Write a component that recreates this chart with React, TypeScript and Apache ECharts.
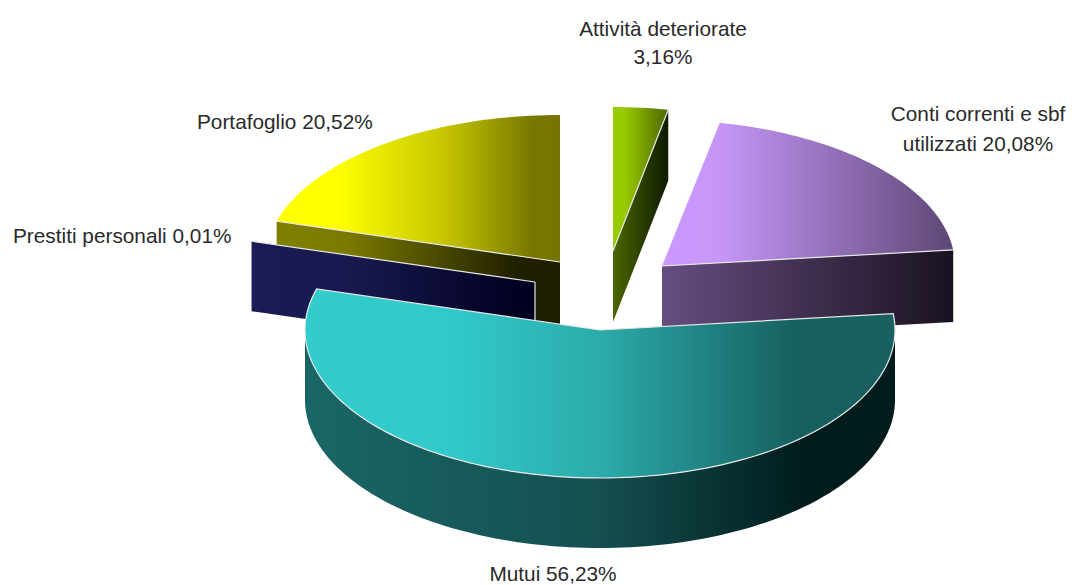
import React, { useEffect, useRef } from "react";
import * as echarts from "echarts";

const categories = ["Attività deteriorate", "Conti correnti e sbf utilizzati", "Mutui", "Prestiti personali", "Portafoglio"];
const values = [3.16, 20.08, 56.23, 0.01, 20.52];

// Back-to-front painting order of the slices
const drawOrder = [0, 1, 4, 3, 2];

// Exploded position and ellipse of every slice
const geometry = [
  { x: 613, y: 251, rx: 280, ry: 144, depth: 71 },
  { x: 662, y: 266, rx: 293, ry: 146, depth: 72 },
  { x: 600, y: 330, rx: 295, ry: 148, depth: 70 },
  { x: 535, y: 282, rx: 295, ry: 147, depth: 70 },
  { x: 560, y: 262, rx: 295, ry: 147, depth: 70 },
];

const topStops = [
  [[0, "#99cc00"], [0.2, "#99cc00"], [1, "#4d6600"]],
  [[0, "#cc99ff"], [0.2, "#c596f8"], [1, "#5e4775"]],
  [[0, "#33cccc"], [0.25, "#31c9c9"], [0.5, "#2cabab"], [0.83, "#176060"], [1, "#1a6060"]],
  [[0, "#1b1b55"], [1, "#000020"]],
  [[0, "#ffff00"], [0.22, "#ffff00"], [0.6, "#c4c400"], [0.9, "#787800"], [1, "#757500"]],
];
const wallStops = [
  [[0, "#4d6600"], [1, "#0d1a00"]],
  [[0, "#664d80"], [1, "#1a1220"]],
  [[0, "#1a6666"], [0.5, "#154f50"], [0.85, "#001c1c"], [1, "#001c1c"]],
  [[0, "#1b1b55"], [0.35, "#191950"], [0.95, "#000020"], [1, "#000020"]],
  [[0, "#808000"], [0.25, "#7a7a00"], [0.85, "#201f00"], [1, "#201f00"]],
];

const EDGE = "#e8e8e8";

const pctText = (v: number) => v.toFixed(2).replace(".", ",") + "%";

const gradient = (stops: any[]) =>
  new echarts.graphic.LinearGradient(0, 0, 1, 0, stops.map(([offset, color]) => ({ offset, color })));

const total = values.reduce((a, b) => a + b, 0);
const starts: number[] = [];
values.reduce((acc, v, i) => {
  starts[i] = acc;
  return acc + v;
}, 0);

const renderItem = (_params: any, api: any) => {
  const i = api.value(0);
  const v = api.value(1);
  const g = geometry[i];
  const s = (starts[i] / total) * 360;
  const e = s + (v / total) * 360;
  const rim = (deg: number, drop = 0) => {
    const r = (deg * Math.PI) / 180;
    return [g.x + g.rx * Math.sin(r), g.y - g.ry * Math.cos(r) + drop];
  };
  const arc = (a: number, b: number, drop = 0) => {
    const n = Math.max(2, Math.ceil(Math.abs(b - a) / 1.5));
    const pts: number[][] = [];
    for (let k = 0; k <= n; k++) pts.push(rim(a + ((b - a) * k) / n, drop));
    return pts;
  };
  const apex = [g.x, g.y];
  const apexLow = [g.x, g.y + g.depth];
  const children: any[] = [];
  const wall = (points: number[][]) =>
    children.push({ type: "polygon", shape: { points }, style: { fill: gradient(wallStops[i]) } });
  const edge = (points: number[][]) =>
    children.push({ type: "polyline", shape: { points }, style: { stroke: EDGE, fill: null, lineWidth: 1.2 } });

  const startFaces = s > 180 && s < 360;
  const endFaces = e > 0 && e < 180;
  const holdsFront = s < 180 && e > 180;
  const sliver = e - s < 1;

  if (holdsFront) {
    wall([...arc(Math.max(s, 90), Math.min(e, 270)), ...arc(Math.min(e, 270), Math.max(s, 90), g.depth)]);
  }
  if (!holdsFront && startFaces) {
    wall([rim(s), apex, apexLow, rim(s, g.depth)]);
  }
  if (!holdsFront && endFaces) {
    wall([rim(e), apex, apexLow, rim(e, g.depth)]);
  }

  if (!sliver) {
    children.push({
      type: "polygon",
      shape: { points: [apex, ...arc(s, e)] },
      style: { fill: gradient(topStops[i]) },
    });
  }

  if (holdsFront) {
    edge([apex, ...arc(s, e), apex]);
  } else {
    if (startFaces) edge([rim(s), apex]);
    if (endFaces) edge([rim(e), apex]);
  }
  if (sliver) edge([apex, apexLow]);

  return { type: "group", children };
};

const labelStyle = { font: "20.8px 'Liberation Sans', Arial, sans-serif", fill: "#2a2a2a" };

const textEl = (text: string, x: number, y: number, align: string) => ({
  type: "text",
  x,
  y,
  silent: true,
  style: { ...labelStyle, text, textAlign: align, textVerticalAlign: "middle" },
});

export default function App() {
  const ref = useRef<HTMLDivElement>(null);
  useEffect(() => {
    document.body.style.margin = "0";
    const chart = echarts.init(ref.current!, null, { renderer: "svg" });
    chart.setOption({
      animation: false,
      backgroundColor: "#ffffff",
      series: [
        {
          type: "custom",
          coordinateSystem: "none",
          silent: true,
          renderItem,
          data: drawOrder.map((i) => [i, values[i]]),
        },
      ],
      graphic: {
        elements: [
          textEl(categories[0], 663, 28, "center"),
          textEl(pctText(values[0]), 663, 56, "center"),
          textEl("Conti correnti e sbf", 978, 113, "center"),
          textEl("utilizzati " + pctText(values[1]), 978, 143, "center"),
          textEl(categories[4] + " " + pctText(values[4]), 197, 121, "left"),
          textEl(categories[3] + " " + pctText(values[3]), 13, 235, "left"),
          textEl(categories[2] + " " + pctText(values[2]), 553, 573, "center"),
        ],
      },
    });
    return () => chart.dispose();
  }, []);
  return <div ref={ref} style={{ width: 1072, height: 585 }} />;
}
